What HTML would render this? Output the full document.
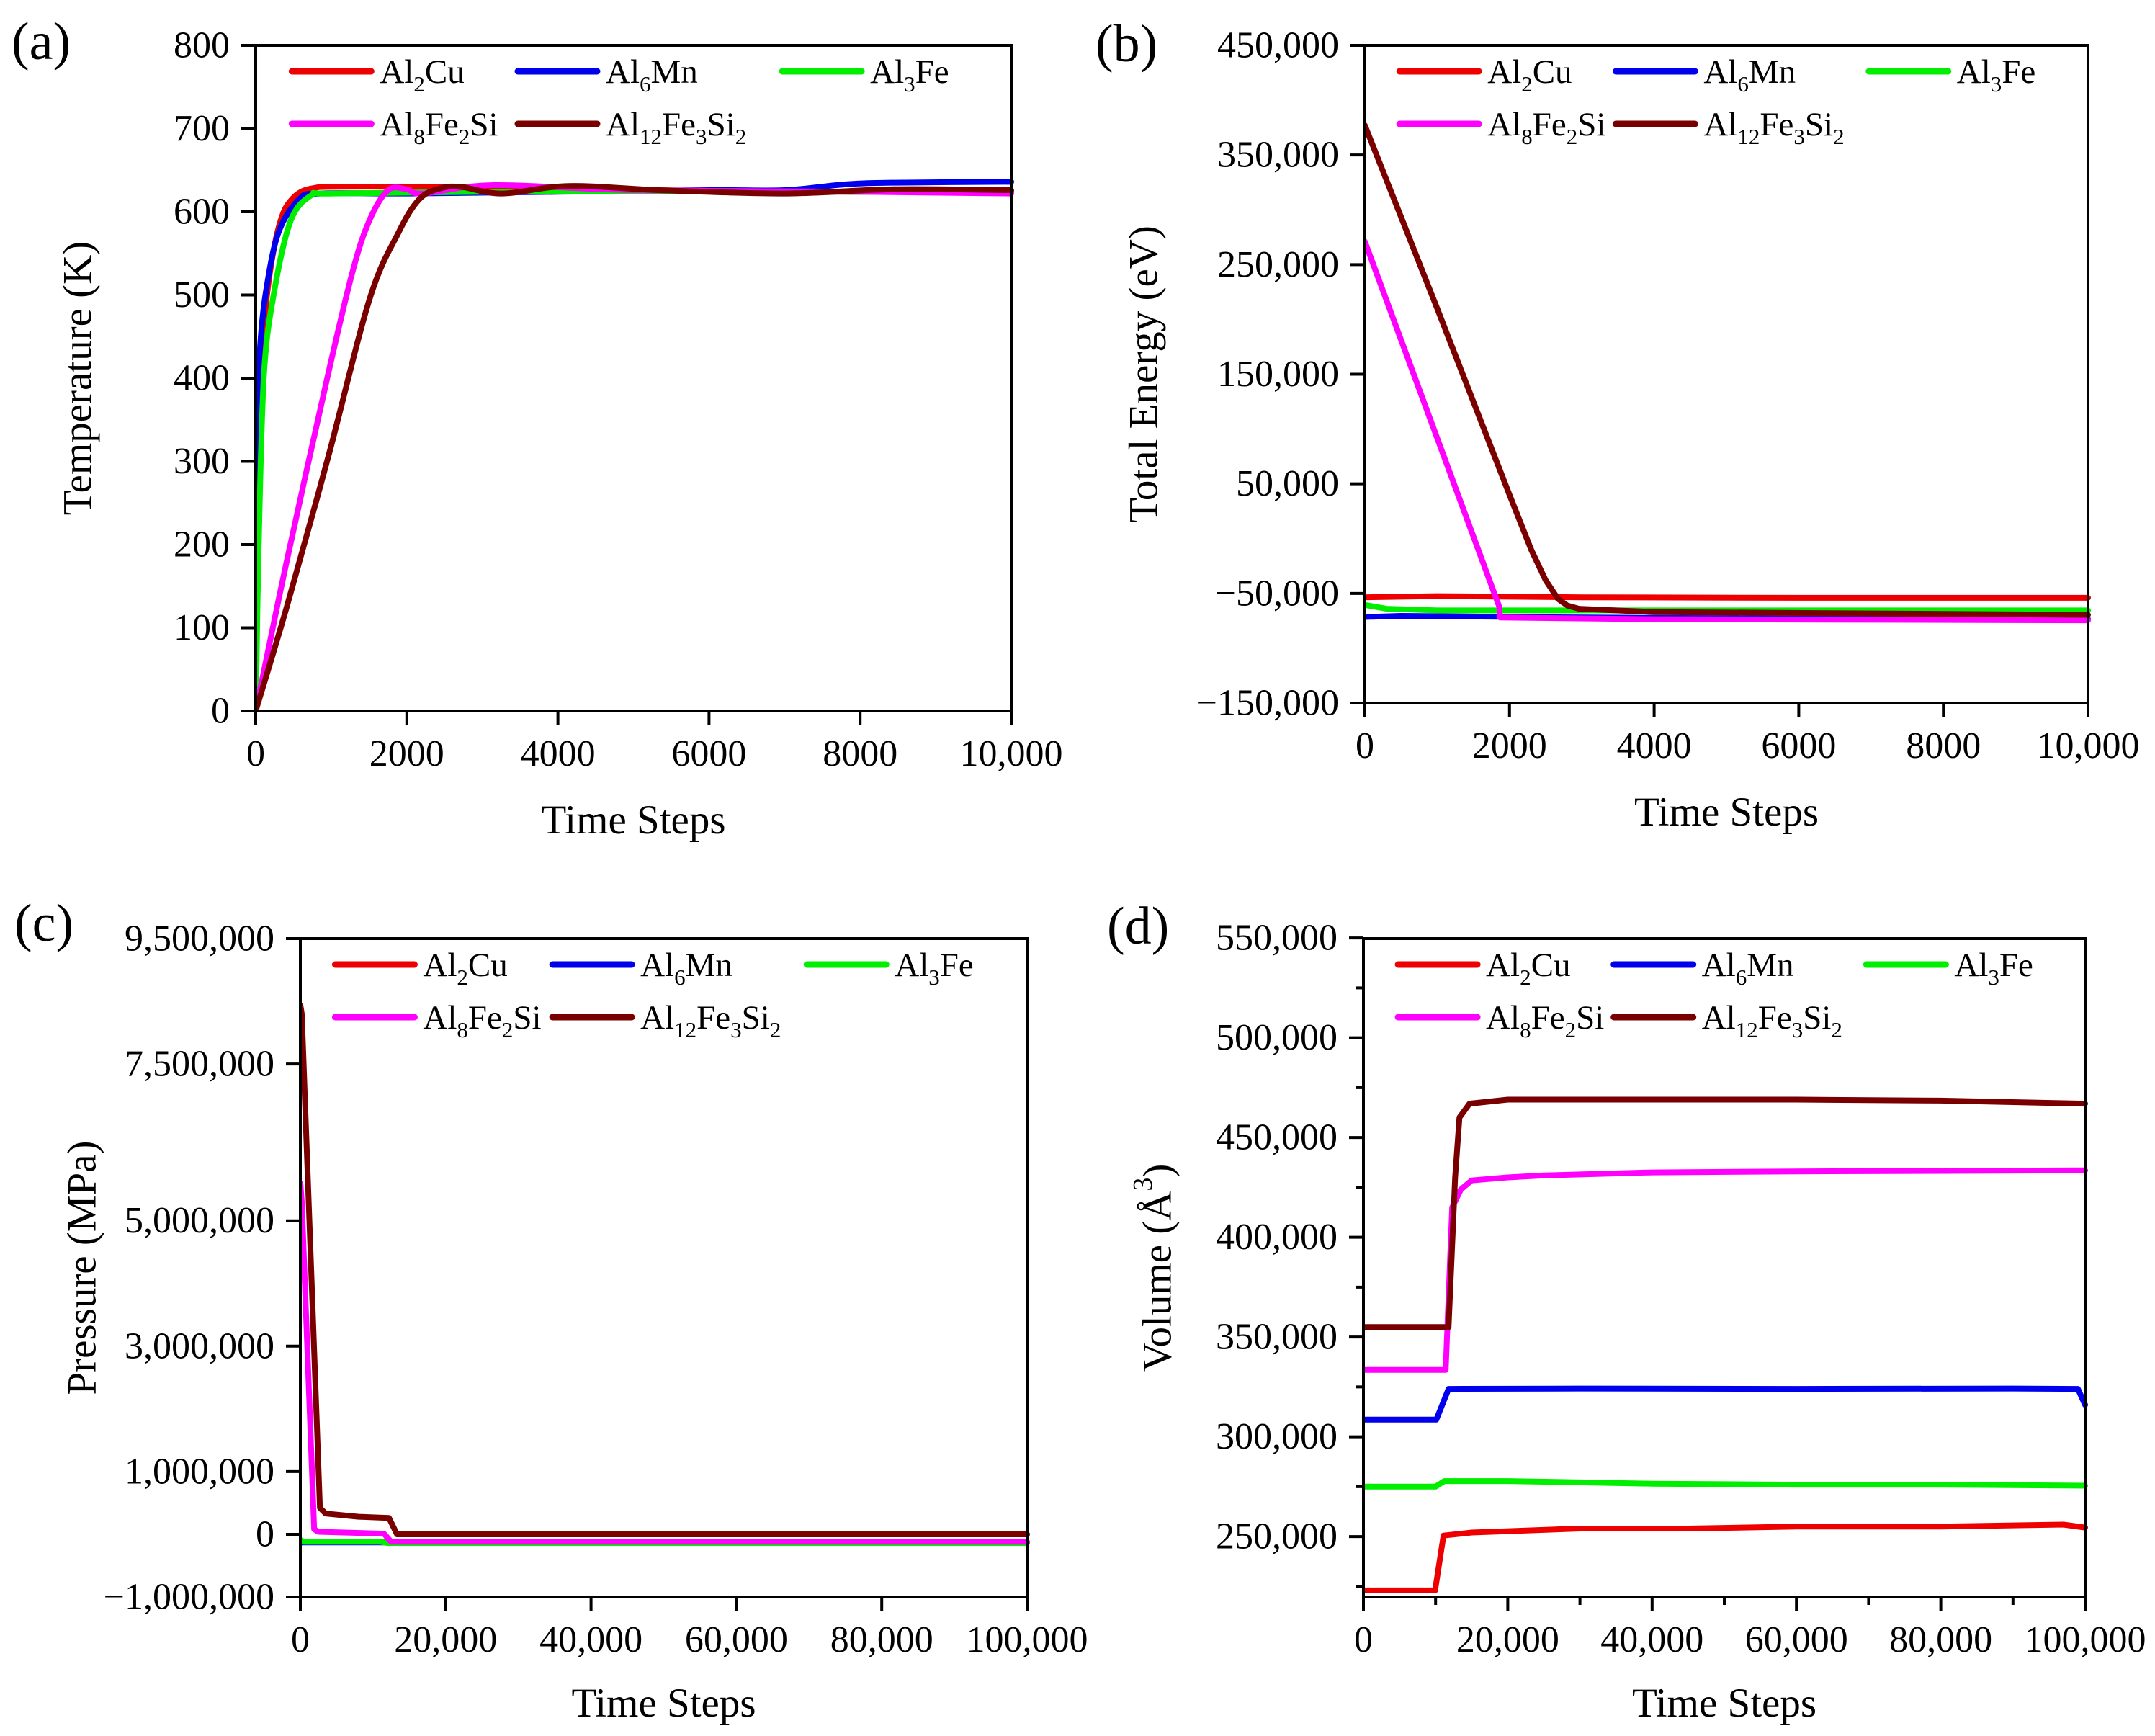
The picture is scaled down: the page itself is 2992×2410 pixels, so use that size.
<!DOCTYPE html>
<html><head><meta charset="utf-8">
<style>
html,body{margin:0;padding:0;background:#fff;}
svg{display:block;font-family:"Liberation Serif","Times New Roman",serif;}
</style></head>
<body>
<svg id="fig" width="2992" height="2410" viewBox="0 0 2992 2410" xmlns="http://www.w3.org/2000/svg"></svg>
<script>
// ---------- Panel (a) Temperature ----------
const aCuX=[0,30,80,150,250,350,450,600,800,1000,2000,4000,6000,8000,10000];
const aCuY=[0,300,420,500,560,595,612,624,629,630,630,628,625,624,624];
const aMnX=[0,27,60,137,301,575,849,2000,4000,6000,7000,7808,8455,10000];
const aMnY=[0,355,440,505,575,615,622,622,624,626,626,633,635,636];
const aFeX=[0,40,110,247,466,740,1000,3000,6000,8000,10000];
const aFeY=[0,200,405,505,590,620,622,624,625,624,624];
const aSiX=[0,411,959,1288,1507,1753,2000,2219,3151,5000,8000,10000];
const aSiY=[0,180,405,530,590,626,627,622,632,626,624,622];
const a12X=[0,411,959,1507,1890,2164,2438,2712,3260,4137,5342,6986,8455,10000];
const a12Y=[0,125,305,495,575,615,628,630,622,631,626,622,627,626];

// ---------- Panel (b) Total Energy ----------
const bCuX=[0,1000,3000,6000,10000];
const bCuY=[-53500,-52500,-53500,-54000,-54000];
const bMnX=[0,500,3000,6000,10000];
const bMnY=[-71500,-70500,-72000,-73000,-73500];
const bFeX=[0,300,1000,4000,10000];
const bFeY=[-60500,-64000,-65500,-65500,-65500];
const bSiX=[0,1858,1870,4000,10000];
const bSiY=[271000,-62000,-72000,-73500,-74500];
const b12X=[0,1000,2000,2300,2500,2670,2800,2960,4000,10000];
const b12Y=[377000,210000,40000,-10000,-38000,-55000,-61000,-64000,-67000,-69500];

// ---------- Panel (c) Pressure (MPa) ----------
const cCuX=[0,10000,13000,100000];
const cCuY=[-120000,-120000,-130000,-130000];
const cMnX=[0,100000];
const cMnY=[-130000,-130000];
const cFeX=[0,500,11000,12000,100000];
const cFeY=[-90000,-120000,-120000,-140000,-140000];
const cSiX=[0,200,1900,2500,11500,12500,100000];
const cSiY=[5600000,5300000,80000,40000,10000,-120000,-120000];
const c12X=[0,200,2700,3500,8000,12200,13300,100000];
const c12Y=[8440000,8300000,420000,330000,280000,260000,0,0];

// ---------- Panel (d) Volume ----------
const dCuX=[0,9930,11100,15000,30000,45000,60000,80000,97000,100000];
const dCuY=[223000,223000,250500,252000,254000,254000,255000,255000,256000,254500];
const dMnX=[0,10100,11800,30000,60000,90000,99000,100000];
const dMnY=[308600,308600,324000,324200,324000,324200,324000,316000];
const dFeX=[0,10000,11200,20000,40000,60000,80000,100000];
const dFeY=[275000,275000,277800,277800,276500,276000,276000,275500];
const dSiX=[0,11400,12300,13500,15000,20000,25000,40000,60000,100000];
const dSiY=[333500,333500,415000,424000,428500,430000,431000,432500,433000,433500];
const d12X=[0,11800,12700,13300,14700,20000,40000,60000,80000,100000];
const d12Y=[355000,355000,430000,460000,467000,469000,469000,469000,468500,467000];

const seriesNames=["Al2Cu","Al6Mn","Al3Fe","Al8Fe2Si","Al12Fe3Si2"];
const seriesColors=["#ee0000","#0000ee","#00ee00","#ff00ff","#7a0000"];
const legendLabels=[
 [["Al",""],["2","s"],["Cu",""]],
 [["Al",""],["6","s"],["Mn",""]],
 [["Al",""],["3","s"],["Fe",""]],
 [["Al",""],["8","s"],["Fe",""],["2","s"],["Si",""]],
 [["Al",""],["12","s"],["Fe",""],["3","s"],["Si",""],["2","s"]]
];

const aTicksY=[0,100,200,300,400,500,600,700,800];
const aTickLblY=["0","100","200","300","400","500","600","700","800"];
const abTicksX=[0,2000,4000,6000,8000,10000];
const abTickLblX=["0","2000","4000","6000","8000","10,000"];
const bTicksY=[-150000,-50000,50000,150000,250000,350000,450000];
const bTickLblY=["\u2212150,000","\u221250,000","50,000","150,000","250,000","350,000","450,000"];
const cTicksY=[-1000000,0,1000000,3000000,5000000,7500000,9500000];
const cTickLblY=["\u22121,000,000","0","1,000,000","3,000,000","5,000,000","7,500,000","9,500,000"];
const cdTicksX=[0,20000,40000,60000,80000,100000];
const cdTickLblX=["0","20,000","40,000","60,000","80,000","100,000"];
const dTicksY=[250000,300000,350000,400000,450000,500000,550000];
const dTickLblY=["250,000","300,000","350,000","400,000","450,000","500,000","550,000"];
const dMinorY=[225000,275000,325000,375000,425000,475000,525000];
const dMinorX=[10000,30000,50000,70000,90000];

const NS="http://www.w3.org/2000/svg";
const fig=document.getElementById("fig");
function mk(tag,attrs,parent){const e=document.createElementNS(NS,tag);for(const k in attrs)e.setAttribute(k,attrs[k]);(parent||fig).appendChild(e);return e;}

function smoothPath(P){
  let d="M"+P[0][0].toFixed(1)+","+P[0][1].toFixed(1);
  for(let i=0;i<P.length-1;i++){
    const p0=P[Math.max(0,i-1)],p1=P[i],p2=P[i+1],p3=P[Math.min(P.length-1,i+2)];
    const c1=[p1[0]+(p2[0]-p0[0])/6,p1[1]+(p2[1]-p0[1])/6];
    const c2=[p2[0]-(p3[0]-p1[0])/6,p2[1]-(p3[1]-p1[1])/6];
    d+=" C"+c1[0].toFixed(1)+","+c1[1].toFixed(1)+" "+c2[0].toFixed(1)+","+c2[1].toFixed(1)+" "+p2[0].toFixed(1)+","+p2[1].toFixed(1);
  }
  return d;
}

function panel(cfg){
  const g=mk("g",{});
  
  
  const L=cfg.L,R=cfg.R,T=cfg.T,B=cfg.B;
  const sx=v=>L+(v-cfg.x0)/(cfg.x1-cfg.x0)*(R-L);
  const sy=v=>B-(v-cfg.y0)/(cfg.y1-cfg.y0)*(B-T);
  const cid="clip"+cfg.id;
  const cp=mk("clipPath",{id:cid},g);mk("rect",{x:L,y:T-4,width:R-L+6,height:B-T+6},cp);
  const sg=mk("g",{"clip-path":"url(#"+cid+")"},g);
  cfg.series.forEach((s,i)=>{
    const P=s[0].map((x,j)=>[sx(x),sy(s[1][j])]);
    let el;
    if(cfg.smooth){
      el=mk("path",{d:smoothPath(P),fill:"none",stroke:seriesColors[i],"stroke-width":8,"stroke-linejoin":"round","stroke-linecap":"round"},sg);
    } else {
      el=mk("polyline",{points:P.map(p=>p[0].toFixed(1)+","+p[1].toFixed(1)).join(" "),fill:"none",stroke:seriesColors[i],"stroke-width":8,"stroke-linejoin":"round","stroke-linecap":"round"},sg);
    }
    
    
  });
  const fr=mk("rect",{x:L,y:T,width:R-L,height:B-T,fill:"none",stroke:"#000","stroke-width":4},g);
  
  
  cfg.ty.forEach((v,i)=>{
    const y=sy(v);
    mk("line",{x1:L-20,x2:L,y1:y,y2:y,stroke:"#000","stroke-width":4},g);
    const t=mk("text",{x:L-36,y:y,"text-anchor":"end","dominant-baseline":"central","font-size":52},g);
    t.textContent=cfg.tyl[i];
    
    
  });
  (cfg.my||[]).forEach(v=>{const y=sy(v);mk("line",{x1:L-11,x2:L,y1:y,y2:y,stroke:"#000","stroke-width":4},g);});
  cfg.tx.forEach((v,i)=>{
    const x=sx(v);
    mk("line",{x1:x,x2:x,y1:B,y2:B+20,stroke:"#000","stroke-width":4},g);
    const t=mk("text",{x:x,y:B+76,"text-anchor":"middle","font-size":52},g);
    t.textContent=cfg.txl[i];
    
    
  });
  (cfg.mx||[]).forEach(v=>{const x=sx(v);mk("line",{x1:x,x2:x,y1:B,y2:B+11,stroke:"#000","stroke-width":4},g);});
  const xt=mk("text",{x:(L+R)/2,y:B+cfg.xtOff,"text-anchor":"middle","font-size":57},g);
  xt.textContent="Time Steps";
  
  
  const yt=mk("text",{x:0,y:0,"text-anchor":"middle","dominant-baseline":"central","font-size":57,transform:"translate("+cfg.ytX+","+(T+B)/2+") rotate(-90)"},g);
  yt.innerHTML=cfg.ytitle;
  
  
  const pl=mk("text",{x:cfg.plX,y:cfg.plY,"font-size":74},g);
  pl.textContent=cfg.label;
  
  
  const W=R-L;
  const cols=[0.048,0.347,0.697];
  const lg=mk("g",{},g);
  
  
  seriesNames.forEach((n,i)=>{
    const row=i<3?0:1, col=i<3?i:i-3;
    const x0=L+cols[col]*W, y=T+(row===0?36:109);
    const e=mk("g",{},lg);
    
    
    mk("line",{x1:x0,x2:x0+110,y1:y,y2:y,stroke:seriesColors[i],"stroke-width":9,"stroke-linecap":"round"},e);
    const t=mk("text",{x:x0+122,y:y+16,"font-size":47},e);
    let prevSub=false;
    legendLabels[i].forEach(p=>{
      const sub=p[1]==="s";
      const ts=mk("tspan",sub?{"font-size":31,dy:prevSub?0:12}:{dy:prevSub?-12:0},t);
      ts.textContent=p[0];
      prevSub=sub;
    });
  });
  return g;
}

panel({id:"a",name:"panel-a-temperature",L:355,R:1404,T:63,B:987,x0:0,x1:10000,y0:0,y1:800,smooth:true,
  series:[[aCuX,aCuY],[aMnX,aMnY],[aFeX,aFeY],[aSiX,aSiY],[a12X,a12Y]],
  ty:aTicksY,tyl:aTickLblY,tx:abTicksX,txl:abTickLblX,xtOff:170,ytX:108,
  ytitle:"Temperature (K)",label:"(a)",plX:16,plY:82});
panel({id:"b",name:"panel-b-total-energy",L:1895,R:2899,T:63,B:976,x0:0,x1:10000,y0:-150000,y1:450000,smooth:false,
  series:[[bCuX,bCuY],[bMnX,bMnY],[bFeX,bFeY],[bSiX,bSiY],[b12X,b12Y]],
  ty:bTicksY,tyl:bTickLblY,tx:abTicksX,txl:abTickLblX,xtOff:170,ytX:1588,
  ytitle:"Total Energy (eV)",label:"(b)",plX:1521,plY:85});
panel({id:"c",name:"panel-c-pressure",L:417,R:1426,T:1303,B:2217,x0:0,x1:100000,y0:-1000000,y1:9500000,smooth:false,
  series:[[cCuX,cCuY],[cMnX,cMnY],[cFeX,cFeY],[cSiX,cSiY],[c12X,c12Y]],
  ty:cTicksY,tyl:cTickLblY,tx:cdTicksX,txl:cdTickLblX,xtOff:166,ytX:114,
  ytitle:"Pressure (MPa)",label:"(c)",plX:20,plY:1306});
panel({id:"d",name:"panel-d-volume",L:1893,R:2895,T:1303,B:2217,x0:0,x1:100000,y0:219700,y1:549700,smooth:false,
  series:[[dCuX,dCuY],[dMnX,dMnY],[dFeX,dFeY],[dSiX,dSiY],[d12X,d12Y]],
  ty:dTicksY,tyl:dTickLblY,my:dMinorY,tx:cdTicksX,txl:cdTickLblX,mx:dMinorX,xtOff:166,ytX:1607,
  ytitle:"Volume (\u00C5<tspan font-size='38' dy='-20'>3</tspan><tspan dy='20'>)</tspan>",label:"(d)",plX:1537,plY:1310});
</script>
</body></html>
